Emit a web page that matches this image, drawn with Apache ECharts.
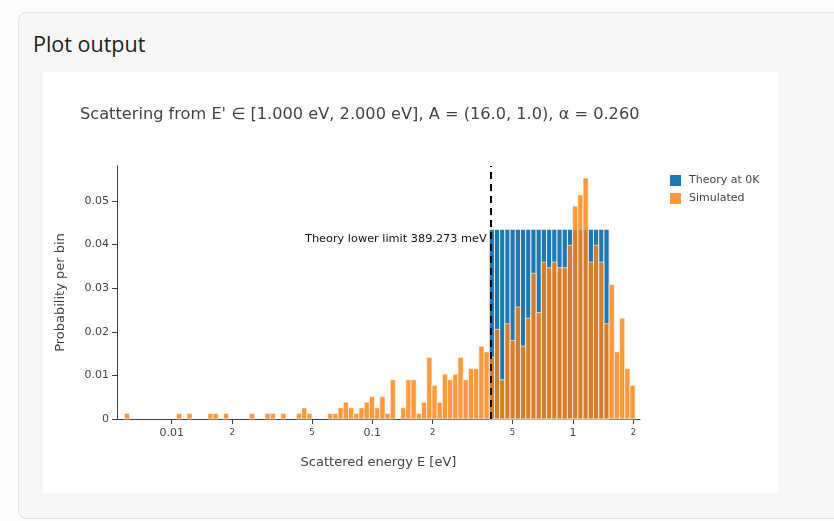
<!DOCTYPE html>
<html>
<head>
<meta charset="utf-8">
<script src="https://cdn.jsdelivr.net/npm/echarts@6/dist/echarts.min.js"></script>
<style>
  html, body { margin: 0; padding: 0; width: 834px; height: 521px; overflow: hidden; background: #fcfcfc; }
  .card { position: absolute; left: 18px; top: 12px; width: 840px; height: 507px; box-sizing: border-box;
          background: #f7f7f7; border: 1px solid #e2e2e2; border-radius: 8px; }
  .heading { position: absolute; left: 33px; top: 30px; font: 21.5px "Open Sans", sans-serif; color: #222; line-height: 28px; }
  #chart { position: absolute; left: 43px; top: 72px; width: 735px; height: 421px; background: #ffffff; }
</style>
</head>
<body>
<div class="card"></div>
<div class="heading">Plot output</div>
<div id="chart"></div>
<script>
// Log-spaced histogram bins shared by both series (energies in eV)
const edgeLow = 0.005808;
const edgeHigh = 2.0427;
const binCount = 98;

// Simulated probability per bin
const simulated = [
  0.00129, 0, 0, 0, 0, 0, 0, 0, 0, 0,
  0.00129, 0, 0.00129, 0, 0, 0, 0.00129, 0.00129, 0, 0.00129,
  0, 0, 0, 0, 0.00129, 0, 0, 0.00129, 0.00129, 0,
  0.00129, 0, 0, 0.00129, 0.00257, 0.00129, 0, 0, 0, 0.00129,
  0.00129, 0.00257, 0.00386, 0.00257, 0.00129, 0.00257, 0.00386, 0.00514, 0.00257, 0.00514,
  0.00129, 0.00900, 0, 0.00257, 0.00900, 0.00900, 0.00129, 0.00386, 0.01414, 0.00771,
  0.00386, 0.01028, 0.00900, 0.01028, 0.01414, 0.00900, 0.01157, 0.01157, 0.01671, 0.01542,
  0.01414, 0.02056, 0.00900, 0.02185, 0.01799, 0.02570, 0.01671, 0.02313, 0.03341, 0.02442,
  0.03598, 0.03470, 0.03598, 0.03470, 0.03470, 0.03984, 0.04883, 0.05140, 0.05526, 0.03598,
  0.03984, 0.03598, 0.02185, 0.03084, 0.01542, 0.02313, 0.01157, 0.00771
];

// Theory at 0K: flat probability over the bins starting at theoryFirstBin
const theoryFirstBin = 70;
const theory = [
  0.0435, 0.0435, 0.0435, 0.0435, 0.0435, 0.0435, 0.0435, 0.0435,
  0.0435, 0.0435, 0.0435, 0.0435, 0.0435, 0.0435, 0.0435, 0.0435,
  0.0435, 0.0435, 0.0435, 0.0435, 0.0435, 0.0435, 0.0435
];

// Lower kinematic limit (eV)
const lowerLimit = 0.389273;

// Axis ticks
const xTickValues = [0.01, 0.02, 0.05, 0.1, 0.2, 0.5, 1, 2];
const xTickLabels = ['0.01', '2', '5', '0.1', '2', '5', '1', '2'];
const xMajorTicks = [0.01, 0.1, 1];
const yTickValues = [0, 0.01, 0.02, 0.03, 0.04, 0.05];
const yTickLabels = ['0', '0.01', '0.02', '0.03', '0.04', '0.05'];

const titleText = "Scattering from E' \u2208 [1.000 eV, 2.000 eV], A = (16.0, 1.0), \u03b1 = 0.260";

const FONT = '"DejaVu Sans", Verdana, sans-serif';
const BLUE = '#1f77b4';
const ORANGE = '#ff7f0e';

const edges = [];
for (let i = 0; i <= binCount; i++) {
  edges.push(edgeLow * Math.pow(edgeHigh / edgeLow, i / binCount));
}

const simData = simulated.map((v, i) => [edges[i], edges[i + 1], v]);
const theoryData = theory.map((v, k) => [edges[theoryFirstBin + k], edges[theoryFirstBin + k + 1], v]);

function barRenderer(fill, opacity) {
  return function (params, api) {
    const v = api.value(2);
    if (!v) return null;
    const p0 = api.coord([api.value(0), v]);
    const p1 = api.coord([api.value(1), 0]);
    return {
      type: 'rect',
      shape: { x: p0[0], y: p0[1], width: p1[0] - p0[0], height: p1[1] - p0[1] },
      style: { fill: fill, stroke: '#ffffff', lineWidth: 0.8, opacity: opacity }
    };
  };
}

function nearly(a, b) { return Math.abs(Math.log10(a) - Math.log10(b)) < 1e-6; }

const chart = echarts.init(document.getElementById('chart'), null, { renderer: 'canvas' });

chart.setOption({
  animation: false,
  backgroundColor: '#ffffff',
  textStyle: { fontFamily: FONT },
  title: {
    text: titleText,
    left: 32,
    top: 30,
    textStyle: { fontFamily: FONT, fontSize: 16.2, fontWeight: 'normal', color: '#444' }
  },
  legend: {
    orient: 'vertical',
    left: 622,
    top: 98,
    itemWidth: 11,
    itemHeight: 11,
    itemGap: 7,
    icon: 'rect',
    textStyle: { fontFamily: FONT, fontSize: 11, color: '#444', padding: [0, 0, 0, 3] },
    data: [
      { name: 'Theory at 0K', itemStyle: { color: BLUE, opacity: 1 } },
      { name: 'Simulated', itemStyle: { color: ORANGE, opacity: 0.8 } }
    ]
  },
  grid: { left: 74, right: 138, top: 94, bottom: 74, containLabel: false, outerBoundsMode: 'none' },
  xAxis: {
    type: 'log',
    logBase: 10,
    min: 0.005336,
    max: 2.1588,
    name: 'Scattered energy E [eV]',
    nameLocation: 'middle',
    nameGap: 37,
    nameTextStyle: { fontFamily: FONT, fontSize: 13, color: '#444' },
    axisLine: { show: true, lineStyle: { color: '#444', width: 1 } },
    axisTick: { show: true, length: 5, lineStyle: { color: '#444' }, customValues: xTickValues },
    splitLine: { show: false },
    minorTick: { show: false },
    axisLabel: {
      customValues: xTickValues,
      margin: 9,
      formatter: function (value) {
        for (let i = 0; i < xTickValues.length; i++) {
          if (nearly(value, xTickValues[i])) {
            const major = xMajorTicks.some(m => nearly(m, xTickValues[i]));
            return major ? '{maj|' + xTickLabels[i] + '}' : '{min|' + xTickLabels[i] + '}';
          }
        }
        return '';
      },
      rich: {
        maj: { fontFamily: FONT, fontSize: 11, color: '#444' },
        min: { fontFamily: FONT, fontSize: 8.5, color: '#444' }
      }
    }
  },
  yAxis: {
    type: 'value',
    min: 0,
    max: 0.05803,
    name: 'Probability per bin',
    nameLocation: 'middle',
    nameGap: 50,
    nameTextStyle: { fontFamily: FONT, fontSize: 13, color: '#444' },
    axisLine: { show: true, lineStyle: { color: '#444', width: 1 } },
    axisTick: { show: true, length: 5, lineStyle: { color: '#444' }, customValues: yTickValues },
    splitLine: { show: false },
    axisLabel: {
      customValues: yTickValues,
      margin: 8,
      fontFamily: FONT,
      fontSize: 11,
      color: '#444',
      formatter: function (value) {
        for (let i = 0; i < yTickValues.length; i++) {
          if (Math.abs(value - yTickValues[i]) < 1e-9) return yTickLabels[i];
        }
        return '';
      }
    }
  },
  series: [
    {
      name: 'Theory at 0K',
      type: 'custom',
      itemStyle: { color: BLUE },
      encode: { x: [0, 1], y: 2 },
      renderItem: barRenderer(BLUE, 1),
      data: theoryData,
      z: 2
    },
    {
      name: 'Simulated',
      type: 'custom',
      itemStyle: { color: ORANGE },
      encode: { x: [0, 1], y: 2 },
      renderItem: barRenderer(ORANGE, 0.8),
      data: simData,
      z: 3,
      markLine: {
        silent: true,
        symbol: ['none', 'none'],
        label: { show: false },
        lineStyle: { color: '#000', width: 2, type: [7, 5] },
        data: [{ xAxis: lowerLimit }],
        z: 10
      },
      markPoint: {
        silent: true,
        symbol: 'rect',
        symbolSize: 0,
        data: [{
          coord: [lowerLimit, 0.0412],
          label: {
            show: true,
            position: 'left',
            distance: 4,
            fontFamily: FONT,
            fontSize: 11.3,
            color: '#111',
            formatter: 'Theory lower limit ' + (lowerLimit * 1000).toFixed(3) + ' meV'
          }
        }]
      }
    }
  ]
});
</script>
</body>
</html>
